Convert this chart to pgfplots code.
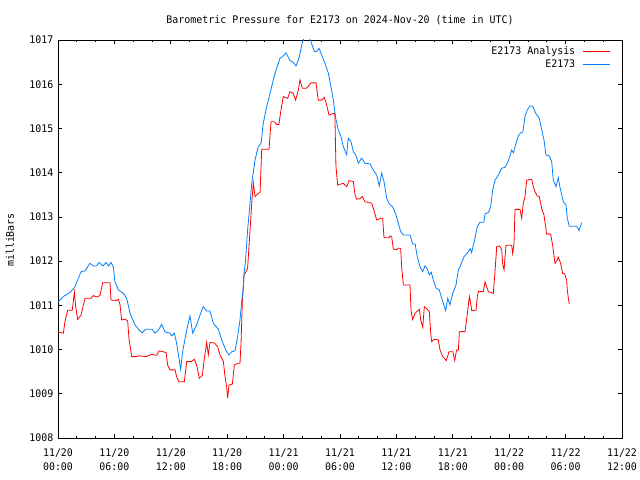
\documentclass[border=0pt]{standalone}
\usepackage{pgfplots}
\pgfplotsset{compat=1.18}
\usepackage{fontspec}
\setmainfont{DejaVu Sans Mono}[FakeStretch=0.95]
\definecolor{gred}{RGB}{255,0,0}
\definecolor{gblue}{RGB}{0,128,255}
\begin{document}
\fontsize{10.5}{13}\selectfont
\begin{tikzpicture}[x=1bp,y=1bp]
\path[use as bounding box] (0,0) rectangle (640,480);
\node[anchor=center] at (340,460) {Barometric Pressure for E2173 on 2024-Nov-20 (time in UTC)};
\node[rotate=90, anchor=center] at (10,240) {milliBars};
\begin{axis}[
  at={(58bp,42bp)}, anchor=south west,
  scale only axis, width=564bp, height=398bp,
  xmin=0, xmax=60, ymin=1008, ymax=1017,
  xtick={0,6,...,60}, minor x tick num=2,
  xticklabels={{11/20\\00:00},{11/20\\06:00},{11/20\\12:00},{11/20\\18:00},{11/21\\00:00},{11/21\\06:00},{11/21\\12:00},{11/21\\18:00},{11/22\\00:00},{11/22\\06:00},{11/22\\12:00}},
  xticklabel style={align=center, font=\fontsize{10.5}{14}\selectfont, yshift=-7bp},
  ytick={1008,1009,...,1017},
  yticklabel style={xshift=-1bp},
  /pgf/number format/assume math mode=true,
  /pgf/number format/1000 sep={},
  tick align=inside,
  major tick length=4bp, minor tick length=2bp,
  tick style={black, line width=0.8bp},
  axis line style={line width=0.8bp},
  legend style={draw=none, fill=none, at={(rel axis cs:0.9844,0.995)}, anchor=north east, font=\fontsize{10.5}{13}\selectfont, row sep=0bp},
  legend cell align=right,
  legend plot pos=right,
  legend image code/.code={\path (0bp,0bp); \draw[#1] (5bp,0bp) -- (32bp,0bp);},
  clip=true,
]
\addplot[gred, line width=0.8bp] coordinates {
(0.03,1010.40)(0.57,1010.37)(0.74,1010.63)(1.03,1010.89)(1.52,1010.89)(1.74,1011.30)(1.88,1010.97)(2.09,1010.68)(2.45,1010.78)(2.87,1011.16)(3.51,1011.16)(3.76,1011.22)(4.10,1011.19)(4.47,1011.22)(4.75,1011.51)(5.53,1011.51)(5.64,1011.12)(6.24,1011.11)(6.42,1011.14)(6.60,1011.01)(6.77,1010.67)(7.10,1010.69)(7.41,1010.65)(7.55,1010.25)(7.84,1009.84)(8.37,1009.84)(8.60,1009.86)(9.33,1009.84)(9.60,1009.86)(9.96,1009.89)(10.50,1009.87)(10.74,1009.97)(11.21,1009.95)(11.50,1009.93)(11.66,1009.65)(11.91,1009.54)(12.45,1009.54)(12.62,1009.39)(12.87,1009.27)(13.44,1009.27)(13.69,1009.73)(14.20,1009.73)(14.50,1009.78)(14.75,1009.65)(15.04,1009.35)(15.36,1009.42)(15.57,1009.80)(15.82,1010.16)(15.99,1009.88)(16.17,1010.16)(16.63,1010.15)(16.99,1010.06)(17.23,1009.88)(17.59,1009.73)(17.77,1009.39)(17.94,1009.16)(18.05,1008.90)(18.19,1009.20)(18.55,1009.22)(18.76,1009.65)(19.11,1009.69)(19.36,1009.69)(19.47,1010.14)(19.61,1011.08)(19.79,1011.69)(19.89,1011.72)(20.17,1011.84)(20.43,1012.70)(20.61,1013.31)(20.78,1013.77)(20.96,1013.46)(21.31,1013.53)(21.50,1013.56)(21.67,1014.53)(22.45,1014.53)(22.66,1015.15)(23.00,1015.15)(23.26,1015.09)(23.50,1015.09)(23.72,1015.42)(23.97,1015.72)(24.43,1015.68)(24.68,1015.83)(25.00,1015.80)(25.28,1015.64)(25.57,1015.87)(25.74,1016.10)(25.99,1015.91)(26.45,1015.91)(26.91,1016.03)(27.45,1016.03)(27.69,1015.64)(28.05,1015.64)(28.33,1015.70)(28.58,1015.53)(28.83,1015.30)(29.29,1015.34)(29.45,1015.34)(29.57,1014.14)(29.75,1013.72)(30.35,1013.76)(30.71,1013.68)(30.96,1013.82)(31.42,1013.80)(31.60,1013.50)(31.77,1013.40)(32.10,1013.41)(32.38,1013.46)(32.66,1013.34)(33.37,1013.31)(33.65,1013.12)(33.90,1012.93)(34.36,1012.97)(34.54,1012.97)(34.68,1012.53)(35.25,1012.53)(35.32,1012.57)(35.50,1012.55)(35.67,1012.27)(36.00,1012.26)(36.20,1012.29)(36.45,1012.29)(36.56,1011.87)(36.74,1011.46)(37.45,1011.46)(37.55,1010.89)(37.73,1010.68)(37.98,1010.82)(38.44,1010.91)(38.59,1010.67)(38.80,1010.50)(38.97,1010.97)(39.20,1010.93)(39.50,1010.86)(39.65,1010.37)(39.75,1010.18)(40.00,1010.23)(40.46,1010.22)(40.64,1009.99)(40.90,1009.85)(41.30,1009.75)(41.60,1009.95)(42.00,1009.95)(42.20,1009.75)(42.40,1009.99)(42.59,1009.99)(42.70,1010.40)(43.00,1010.41)(43.30,1010.40)(43.54,1010.80)(43.76,1011.20)(43.90,1011.05)(44.01,1010.88)(44.47,1010.89)(44.61,1011.20)(44.72,1011.31)(45.25,1011.31)(45.43,1011.53)(45.60,1011.42)(45.78,1011.31)(46.31,1011.27)(46.49,1011.76)(46.67,1012.33)(47.00,1012.34)(47.20,1012.25)(47.31,1011.93)(47.45,1011.80)(47.66,1012.36)(48.26,1012.36)(48.37,1012.17)(48.51,1012.40)(48.62,1013.17)(49.15,1013.17)(49.33,1012.97)(49.50,1013.31)(49.68,1013.46)(49.86,1013.83)(50.39,1013.85)(50.55,1013.70)(50.74,1013.57)(50.99,1013.47)(51.20,1013.46)(51.46,1013.19)(51.70,1013.04)(51.99,1012.61)(52.41,1012.61)(52.62,1012.36)(52.87,1011.95)(53.05,1012.00)(53.22,1012.09)(53.47,1011.95)(53.68,1011.72)(53.90,1011.71)(54.11,1011.57)(54.18,1011.35)(54.29,1011.16)(54.39,1011.03)
};
\addlegendentry{E2173 Analysis}
\addplot[gblue, line width=0.8bp] coordinates {
(0.03,1011.08)(0.57,1011.20)(1.28,1011.29)(1.81,1011.42)(2.45,1011.76)(2.87,1011.78)(3.40,1011.95)(3.76,1011.89)(4.10,1011.89)(4.36,1011.97)(4.80,1011.89)(5.10,1011.97)(5.40,1011.89)(5.64,1011.97)(5.89,1011.87)(6.06,1011.53)(6.42,1011.35)(6.95,1011.27)(7.31,1011.16)(7.66,1010.82)(8.19,1010.56)(8.55,1010.46)(8.97,1010.38)(9.33,1010.46)(10.03,1010.46)(10.32,1010.37)(10.68,1010.44)(11.03,1010.57)(11.38,1010.40)(11.91,1010.37)(12.09,1010.31)(12.38,1010.37)(12.62,1010.14)(13.05,1009.55)(13.23,1009.92)(13.69,1010.44)(14.04,1010.76)(14.33,1010.37)(14.75,1010.56)(15.29,1010.89)(15.46,1010.97)(15.82,1010.87)(16.17,1010.87)(16.53,1010.59)(17.06,1010.46)(17.41,1010.22)(17.84,1009.99)(18.19,1009.88)(18.48,1009.95)(18.83,1009.97)(19.11,1010.29)(19.36,1010.67)(19.54,1011.08)(19.71,1011.39)(19.79,1011.72)(19.96,1012.03)(20.17,1012.70)(20.43,1013.31)(20.61,1013.76)(20.96,1014.29)(21.31,1014.59)(21.60,1014.66)(21.84,1015.12)(22.20,1015.49)(22.55,1015.79)(23.09,1016.25)(23.62,1016.59)(23.87,1016.62)(24.26,1016.71)(24.68,1016.53)(25.00,1016.50)(25.32,1016.41)(25.64,1016.59)(25.99,1016.94)(26.28,1017.10)(26.55,1017.12)(26.81,1017.02)(27.27,1016.74)(27.50,1016.74)(27.77,1016.81)(28.05,1016.66)(28.40,1016.47)(28.76,1016.25)(29.04,1015.94)(29.29,1015.64)(29.54,1015.23)(29.82,1014.97)(30.11,1014.81)(30.35,1014.59)(30.71,1014.40)(30.88,1014.78)(31.17,1014.70)(31.42,1014.47)(31.68,1014.40)(31.95,1014.21)(32.31,1014.33)(32.66,1014.21)(33.19,1014.20)(33.54,1014.06)(33.90,1013.95)(34.18,1013.70)(34.43,1013.99)(34.68,1013.80)(34.97,1013.42)(35.25,1013.29)(35.60,1013.23)(35.96,1013.04)(36.20,1012.86)(36.45,1012.67)(36.74,1012.59)(37.45,1012.59)(37.73,1012.39)(38.00,1012.38)(38.22,1012.10)(38.51,1011.87)(38.80,1011.76)(39.04,1011.89)(39.25,1011.84)(39.50,1011.69)(39.70,1011.75)(39.93,1011.57)(40.21,1011.39)(40.56,1011.35)(40.82,1011.16)(40.99,1011.05)(41.24,1010.88)(41.46,1011.16)(41.70,1011.01)(41.99,1011.27)(42.34,1011.46)(42.59,1011.80)(42.84,1011.91)(43.19,1012.10)(43.65,1012.21)(43.85,1012.28)(44.00,1012.19)(44.26,1012.42)(44.61,1012.78)(44.89,1012.88)(45.30,1012.88)(45.43,1013.07)(45.80,1013.10)(46.03,1013.23)(46.24,1013.61)(46.49,1013.83)(46.85,1013.95)(47.20,1014.10)(47.55,1014.12)(47.80,1014.21)(48.09,1014.38)(48.26,1014.51)(48.45,1014.45)(48.72,1014.66)(48.97,1014.83)(49.22,1014.90)(49.45,1014.92)(49.68,1015.27)(49.93,1015.42)(50.21,1015.51)(50.50,1015.50)(50.85,1015.33)(51.20,1015.23)(51.46,1014.97)(51.70,1014.74)(51.91,1014.40)(52.25,1014.38)(52.52,1014.25)(52.69,1013.83)(52.98,1013.68)(53.22,1013.89)(53.40,1013.67)(53.76,1013.34)(54.04,1013.27)(54.18,1012.97)(54.39,1012.79)(55.18,1012.79)(55.43,1012.69)(55.71,1012.87)
};
\addlegendentry{E2173}
\end{axis}
\end{tikzpicture}
\end{document}
